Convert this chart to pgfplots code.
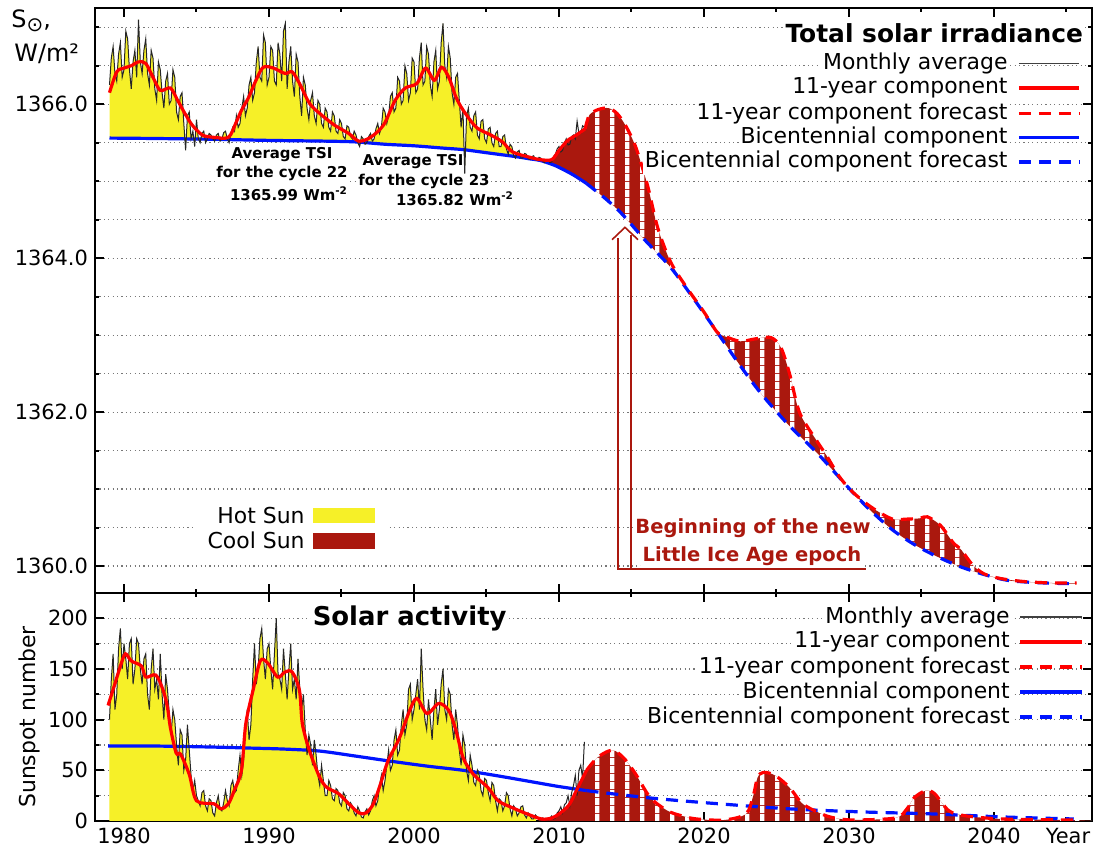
\documentclass[border=0pt]{standalone}
\usepackage{fontspec}
\setmainfont{DejaVu Sans}
\usepackage{pgfplots}
\pgfplotsset{compat=1.18}
\usepackage{pgfplotstable}
\usepgfplotslibrary{fillbetween}
\usetikzlibrary{patterns}

\definecolor{hot}{RGB}{246,240,40}
\definecolor{cool}{RGB}{170,24,14}
\definecolor{cred}{RGB}{255,0,0}
\definecolor{cblue}{RGB}{0,20,255}
\definecolor{gridc}{RGB}{120,120,120}

% white vertical stripes, one per year (14.5 px)
\pgfdeclarepatternformonly{vstripes}{\pgfqpoint{0bp}{0bp}}{\pgfqpoint{7.25bp}{4bp}}{\pgfqpoint{7.25bp}{4bp}}{%
  \pgfpathrectangle{\pgfqpoint{0bp}{0bp}}{\pgfqpoint{2.2bp}{4bp}}\pgfusepath{fill}}

% monthly averages (read every eighth of a year)
\pgfplotstableread{
year tsi ssn
1979.000 1366.25 100
1979.125 1366.60 140
1979.250 1366.75 165
1979.375 1366.40 110
1979.500 1366.30 125
1979.625 1366.65 170
1979.750 1366.80 190
1979.875 1366.35 150
1980.000 1366.45 175
1980.125 1366.95 160
1980.250 1366.85 140
1980.375 1366.45 175
1980.500 1366.20 180
1980.625 1366.55 135
1980.750 1366.70 150
1980.875 1366.35 180
1981.000 1367.10 175
1981.125 1366.55 150
1981.250 1366.40 135
1981.375 1366.70 160
1981.500 1366.85 165
1981.625 1366.40 125
1981.750 1366.25 110
1981.875 1366.70 150
1982.000 1366.60 170
1982.125 1366.20 130
1982.250 1366.05 140
1982.375 1366.55 120
1982.500 1366.45 165
1982.625 1366.15 125
1982.750 1365.95 100
1982.875 1366.30 145
1983.000 1366.40 130
1983.125 1366.00 105
1983.250 1366.05 85
1983.375 1366.45 110
1983.500 1366.35 100
1983.625 1365.90 75
1983.750 1365.80 55
1983.875 1366.10 90
1984.000 1366.15 85
1984.125 1365.75 50
1984.250 1365.40 60
1984.375 1365.85 95
1984.500 1365.90 70
1984.625 1365.55 45
1984.750 1365.65 30
1984.875 1365.45 40
1985.000 1365.80 25
1985.125 1365.55 20
1985.250 1365.50 15
1985.375 1365.62 28
1985.500 1365.65 30
1985.625 1365.50 15
1985.750 1365.55 10
1985.875 1365.62 22
1986.000 1365.60 20
1986.125 1365.55 8
1986.250 1365.52 5
1986.375 1365.60 18
1986.500 1365.62 25
1986.625 1365.52 12
1986.750 1365.55 10
1986.875 1365.63 18
1987.000 1365.65 30
1987.125 1365.55 20
1987.250 1365.50 15
1987.375 1365.62 35
1987.500 1365.70 40
1987.625 1365.65 28
1987.750 1365.85 30
1987.875 1365.70 50
1988.000 1365.75 65
1988.125 1365.95 45
1988.250 1366.10 60
1988.375 1365.85 90
1988.500 1365.95 110
1988.625 1366.25 80
1988.750 1366.35 95
1988.875 1366.05 140
1989.000 1366.15 175
1989.125 1366.55 135
1989.250 1366.75 150
1989.375 1366.35 180
1989.500 1366.30 190
1989.625 1366.90 160
1989.750 1366.80 140
1989.875 1366.25 170
1990.000 1366.35 175
1990.125 1366.75 150
1990.250 1366.70 130
1990.375 1366.30 165
1990.500 1366.25 200
1990.625 1366.80 145
1990.750 1366.65 140
1990.875 1366.30 130
1991.000 1366.95 170
1991.125 1367.05 145
1991.250 1366.20 120
1991.375 1366.55 150
1991.500 1366.75 175
1991.625 1366.30 130
1991.750 1366.10 140
1991.875 1366.65 120
1992.000 1366.55 160
1992.125 1366.10 130
1992.250 1365.85 110
1992.375 1366.35 125
1992.500 1366.25 90
1992.625 1365.95 65
1992.750 1365.80 85
1992.875 1366.05 75
1993.000 1366.15 55
1993.125 1365.85 80
1993.250 1365.75 65
1993.375 1366.05 45
1993.500 1366.00 35
1993.625 1365.75 55
1993.750 1365.70 40
1993.875 1365.95 25
1994.000 1365.90 25
1994.125 1365.70 40
1994.250 1365.65 35
1994.375 1365.90 22
1994.500 1365.85 20
1994.625 1365.65 32
1994.750 1365.62 30
1994.875 1365.80 18
1995.000 1365.75 15
1995.125 1365.58 28
1995.250 1365.55 25
1995.375 1365.72 12
1995.500 1365.70 10
1995.625 1365.58 18
1995.750 1365.55 15
1995.875 1365.65 8
1996.000 1365.60 5
1996.125 1365.50 14
1996.250 1365.45 10
1996.375 1365.58 4
1996.500 1365.55 3
1996.625 1365.48 9
1996.750 1365.50 12
1996.875 1365.58 6
1997.000 1365.62 10
1997.125 1365.52 20
1997.250 1365.55 25
1997.375 1365.68 15
1997.500 1365.75 20
1997.625 1365.62 35
1997.750 1365.70 45
1997.875 1365.95 30
1998.000 1365.90 40
1998.125 1365.75 55
1998.250 1365.85 70
1998.375 1366.10 50
1998.500 1366.15 55
1998.625 1365.90 80
1998.750 1365.95 90
1998.875 1366.35 65
1999.000 1366.30 70
1999.125 1366.00 95
1999.250 1366.05 110
1999.375 1366.50 85
1999.500 1366.40 95
1999.625 1366.05 130
1999.750 1366.15 135
1999.875 1366.60 100
2000.000 1366.55 110
2000.125 1366.15 125
2000.250 1366.20 140
2000.375 1366.60 110
2000.500 1366.80 170
2000.625 1366.25 130
2000.750 1366.30 100
2000.875 1366.75 90
2001.000 1366.65 120
2001.125 1366.25 100
2001.250 1366.10 80
2001.375 1366.55 110
2001.500 1366.70 130
2001.625 1366.20 95
2001.750 1366.30 110
2001.875 1366.80 135
2002.000 1367.05 150
2002.125 1366.50 110
2002.250 1366.35 100
2002.375 1366.75 130
2002.500 1366.60 125
2002.625 1366.15 95
2002.750 1366.00 80
2002.875 1366.35 110
2003.000 1366.40 95
2003.125 1366.05 70
2003.250 1365.70 55
2003.375 1365.95 85
2003.500 1365.10 75
2003.625 1365.85 50
2003.750 1365.95 40
2003.875 1365.70 65
2004.000 1365.65 55
2004.125 1365.85 38
2004.250 1365.90 35
2004.375 1365.60 50
2004.500 1365.55 45
2004.625 1365.78 30
2004.750 1365.80 25
2004.875 1365.55 42
2005.000 1365.50 40
2005.125 1365.68 28
2005.250 1365.70 20
2005.375 1365.50 38
2005.500 1365.45 35
2005.625 1365.62 20
2005.750 1365.65 10
2005.875 1365.45 22
2006.000 1365.45 20
2006.125 1365.58 10
2006.250 1365.60 15
2006.375 1365.42 28
2006.500 1365.35 25
2006.625 1365.48 12
2006.750 1365.45 5
2006.875 1365.33 15
2007.000 1365.30 12
2007.125 1365.38 5
2007.250 1365.40 8
2007.375 1365.30 14
2007.500 1365.30 15
2007.625 1365.36 6
2007.750 1365.35 3
2007.875 1365.29 8
2008.000 1365.28 5
2008.125 1365.32 2
2008.250 1365.33 2
2008.375 1365.28 6
2008.500 1365.27 4
2008.625 1365.31 1
2008.750 1365.30 1
2008.875 1365.26 3
2009.000 1365.24 2
2009.125 1365.27 1
2009.250 1365.28 1
2009.375 1365.24 3
2009.500 1365.25 5
2009.625 1365.32 2
2009.750 1365.35 3
2009.875 1365.42 8
2010.000 1365.45 10
2010.125 1365.38 14
2010.250 1365.40 8
2010.375 1365.50 16
2010.500 1365.55 18
2010.625 1365.47 25
2010.750 1365.48 15
2010.875 1365.58 28
2011.000 1365.60 35
2011.125 1365.55 45
2011.250 1365.78 25
2011.375 1365.62 50
2011.500 1365.62 55
2011.625 1365.72 42
2011.750 1365.70 78
}\mon

% 11-year component of TSI (measured, then forecast)
\pgfplotstableread{
x y
1979.0 1366.15
1979.5 1366.42
1980.0 1366.47
1980.5 1366.50
1981.0 1366.55
1981.5 1366.53
1982.0 1366.35
1982.5 1366.18
1983.2 1366.21
1983.7 1366.05
1984.2 1365.88
1984.7 1365.73
1985.4 1365.60
1986.2 1365.57
1987.2 1365.57
1987.7 1365.75
1988.1 1365.92
1988.6 1366.09
1989.1 1366.31
1989.6 1366.48
1990.3 1366.47
1991.1 1366.40
1991.6 1366.42
1992.1 1366.27
1992.8 1366.01
1993.5 1365.88
1994.5 1365.73
1995.5 1365.62
1996.2 1365.52
1997.0 1365.57
1997.9 1365.73
1998.7 1366.05
1999.4 1366.21
2000.2 1366.27
2000.8 1366.47
2001.4 1366.31
2001.9 1366.48
2002.4 1366.35
2002.9 1366.09
2003.4 1365.92
2004.3 1365.70
2005.3 1365.60
2006.1 1365.51
2006.8 1365.38
2008.0 1365.31
2008.7 1365.28
2009.5 1365.28
2010.0 1365.40
2010.6 1365.53
2011.2 1365.60
2011.8 1365.68
2012.1 1365.86
2012.7 1365.93
2013.4 1365.95
2014.0 1365.88
2014.6 1365.72
2015.3 1365.44
2016.1 1364.95
2016.8 1364.40
2017.7 1363.95
2018.8 1363.62
2020.0 1363.30
2020.9 1363.04
2021.5 1362.98
2022.5 1362.92
2023.5 1362.95
2024.6 1362.97
2025.3 1362.84
2025.9 1362.50
2026.6 1361.99
2027.8 1361.62
2028.5 1361.42
2029.3 1361.17
2030.1 1360.99
2031.0 1360.84
2031.9 1360.72
2033.0 1360.61
2034.0 1360.61
2034.9 1360.62
2035.4 1360.64
2036.3 1360.53
2037.2 1360.30
2037.7 1360.22
2038.5 1360.02
2039.3 1359.90
2040.4 1359.84
2042.0 1359.80
2044.0 1359.78
2045.7 1359.78
}\rtsi

% bicentennial component of TSI
\pgfplotstableread{
x y
1979.0 1365.56
1982.0 1365.555
1986.0 1365.545
1990.0 1365.53
1994.0 1365.52
1996.0 1365.51
1998.0 1365.48
2000.0 1365.46
2002.0 1365.43
2003.4 1365.41
2005.0 1365.37
2006.0 1365.345
2007.0 1365.32
2008.0 1365.29
2008.7 1365.27
2009.5 1365.22
2010.0 1365.18
2011.0 1365.08
2011.9 1364.97
2012.5 1364.88
2013.1 1364.79
2014.0 1364.64
2014.7 1364.50
2016.0 1364.22
2017.7 1363.88
2019.3 1363.47
2020.9 1363.04
2022.4 1362.63
2023.9 1362.25
2025.8 1361.84
2027.8 1361.47
2030.1 1360.99
2031.5 1360.72
2033.0 1360.47
2034.5 1360.28
2036.0 1360.13
2037.7 1359.99
2039.5 1359.88
2041.1 1359.81
2043.5 1359.78
2045.7 1359.77
}\btsi

% 11-year component of the sunspot number
\pgfplotstableread{
x y
1978.9 114
1979.3 132
1979.8 155
1980.1 165
1980.5 158
1981.2 153
1981.5 142
1982.2 144
1982.7 129
1983.0 112
1983.2 92
1983.6 67
1983.9 66
1984.5 46
1985.0 20
1986.2 17
1986.7 12
1987.2 17
1987.6 30
1988.1 50
1988.4 96
1988.9 129
1989.4 158
1989.9 156
1990.6 142
1991.1 147
1991.6 147
1992.1 129
1992.3 96
1992.8 69
1993.5 43
1994.0 33
1994.8 27
1995.5 17
1996.2 8
1996.7 8
1997.2 17
1997.7 37
1998.2 59
1999.0 82
1999.7 109
2000.2 121
2000.9 106
2001.7 116
2002.4 109
2002.9 89
2003.4 62
2004.1 46
2005.1 33
2005.8 20
2006.8 13
2007.8 7
2008.8 2
2009.5 3
2010.1 8
2010.7 16
2011.2 30
2011.9 50
2012.6 62
2013.4 69
2013.9 69
2014.6 60
2015.3 46
2016.3 23
2017.5 10
2018.5 5
2019.5 2
2021.4 1
2022.9 7
2023.4 25
2023.7 43
2024.1 48
2024.9 45
2025.9 33
2026.8 17
2028.1 7
2029.0 3
2030.3 1
2033.2 3
2034.0 12
2034.5 23
2035.3 30
2035.9 27
2036.9 10
2038.1 5
2040.6 2
2045.5 1
}\rssn

% bicentennial component of the sunspot number
\pgfplotstableread{
x y
1978.9 74
1982.0 74
1986.0 73
1988.6 72
1991.0 71
1993.5 69
1996.0 64
1998.4 59
2001.0 54
2003.4 50
2006.0 44
2008.0 39
2010.0 34
2011.9 30
2013.6 27
2016.8 22
2021.0 17
2025.9 12
2030.8 9
2035.7 7
2040.6 4
2045.5 2
}\bssn

\pgfplotsset{
  base/.style={
    scale only axis, width=498.5bp, xmin=1978, xmax=2046.76,
    xtick={1980,1990,...,2040}, minor xtick={1980,1985,...,2045},
    tick align=inside, major tick length=4.5bp, minor tick length=2bp,
    every tick/.style={black, line width=1bp},
    axis line style={line width=1.1bp},
    ymajorgrids, yminorgrids,
    major grid style={gridc, line width=0.6bp, dash pattern=on 0.6bp off 1.6bp},
    minor grid style={gridc, line width=0.6bp, dash pattern=on 0.6bp off 1.6bp},
    tick label style={font=\fontsize{10.5}{12}\selectfont},
    /pgf/number format/assume math mode=true,
    xticklabel style={/pgf/number format/1000 sep={}},
    no markers,
  },
}
\tikzset{
  ln/.style={line width=1.6bp},
  fc/.style={dash pattern=on 6bp off 4bp},
  leg/.style={anchor=east, fill=white, inner sep=1bp, font=\fontsize{11}{13}\selectfont},
  ann/.style={fill=white, inner sep=0.8bp, font=\fontsize{7.5}{9}\selectfont\bfseries},
}

\begin{document}
\begin{tikzpicture}

% ---------------- total solar irradiance ----------------
\begin{axis}[base, at={(47.5bp,130bp)}, anchor=south west, height=292.5bp,
  ymin=1359.65, ymax=1367.25,
  ytick={1360,1362,1364,1366}, minor ytick={1360,1360.5,...,1367},
  scaled y ticks=false,
  yticklabel style={/pgf/number format/.cd, fixed, fixed zerofill, precision=1, 1000 sep={}},
  xticklabels={}]
\addplot[draw=none, name path=tmh] table[x=year,y=tsi,restrict x to domain=1978:2008.8]{\mon};
\addplot[draw=none, smooth, name path=bth] table[restrict x to domain=1978:2008.8]{\btsi};
\addplot[draw=none, smooth, name path=rt] table{\rtsi};
\addplot[draw=none, smooth, name path=bt] table{\btsi};
\addplot[hot] fill between[of=tmh and bth];
\addplot[cool] fill between[of=rt and bt, soft clip={(2008.7,1359) rectangle (2047,1368)}];
\addplot[pattern=vstripes, pattern color=white] fill between[of=rt and bt, soft clip={(2012.4,1359) rectangle (2047,1368)}];

\node[ann] at (axis cs:1990.9,1365.34) {Average TSI};
\node[ann] at (axis cs:1990.9,1365.10) {for the cycle 22};
\node[ann] at (axis cs:1991.38,1364.84) {1365.99 Wm\textsuperscript{-2}};
\node[ann] at (axis cs:1999.93,1365.25) {Average TSI};
\node[ann] at (axis cs:2000.69,1365.00) {for the cycle 23};
\node[ann] at (axis cs:2002.83,1364.77) {1365.82 Wm\textsuperscript{-2}};

\addplot[cblue, ln, smooth] table[restrict x to domain=1978:2011.9]{\btsi};
\addplot[cblue, ln, fc, smooth] table[restrict x to domain=2011.9:2047]{\btsi};
\addplot[black!85, line width=0.5bp] table[x=year,y=tsi]{\mon};
\addplot[cred, ln, smooth] table[restrict x to domain=1978:2011.8]{\rtsi};
\addplot[cred, ln, fc, smooth] table[restrict x to domain=2011.8:2047]{\rtsi};

% hot / cool key
\fill[white] (axis cs:1984.76,1360.14) rectangle (axis cs:1998.14,1360.86);
\fill[hot] (axis cs:1993.03,1360.56) rectangle (axis cs:1997.31,1360.75);
\fill[cool] (axis cs:1993.03,1360.22) rectangle (axis cs:1997.31,1360.43);
\node[anchor=east, inner sep=0, font=\fontsize{11}{13}\selectfont] at (axis cs:1992.48,1360.66) {Hot Sun};
\node[anchor=east, inner sep=0, font=\fontsize{11}{13}\selectfont] at (axis cs:1992.48,1360.34) {Cool Sun};

% arrow
\draw[cool, line width=0.8bp] (axis cs:2014.07,1364.26) -- (axis cs:2014.07,1359.96) -- (axis cs:2031.17,1359.96);
\draw[cool, line width=0.8bp] (axis cs:2014.97,1364.30) -- (axis cs:2014.97,1359.96);
\draw[cool, line width=0.8bp] (axis cs:2013.66,1364.24) -- (axis cs:2014.55,1364.40) -- (axis cs:2015.45,1364.24);
\node[fill=white, inner sep=0.6bp, text=cool, font=\fontsize{9.8}{11}\selectfont\bfseries] at (axis cs:2023.38,1360.49) {Beginning of the new};
\node[fill=white, inner sep=0.6bp, text=cool, font=\fontsize{9.8}{11}\selectfont\bfseries] at (axis cs:2023.31,1360.13) {Little Ice Age epoch};

% legend
\node[anchor=east, fill=white, inner sep=1bp, font=\fontsize{12.5}{14}\selectfont\bfseries] at (axis cs:2046.3,1366.92) {Total solar irradiance};
\node[leg] at (axis cs:2041.1,1366.53) {Monthly average};
\node[leg] at (axis cs:2041.1,1366.21) {11-year component};
\node[leg] at (axis cs:2041.1,1365.88) {11-year component forecast};
\node[leg] at (axis cs:2041.1,1365.57) {Bicentennial component};
\node[leg] at (axis cs:2041.1,1365.25) {Bicentennial component forecast};
\draw[black!75, line width=0.6bp] (axis cs:2041.72,1366.53) -- (axis cs:2045.86,1366.53);
\draw[cred, ln] (axis cs:2041.72,1366.21) -- (axis cs:2045.86,1366.21);
\draw[cred, ln, fc] (axis cs:2041.72,1365.88) -- (axis cs:2045.86,1365.88);
\draw[cblue, ln] (axis cs:2041.72,1365.57) -- (axis cs:2045.86,1365.57);
\draw[cblue, ln, fc] (axis cs:2041.72,1365.25) -- (axis cs:2045.86,1365.25);
\end{axis}

% ---------------- solar activity ----------------
\begin{axis}[base, at={(47.5bp,16bp)}, anchor=south west, height=114bp,
  ymin=0, ymax=225, ytick={0,50,...,200}, minor ytick={25,75,125,175},
  extra x ticks={2045.1}, extra x tick labels={Year},
  extra x tick style={major tick length=0pt}]
\addplot[draw=none, name path=zero] coordinates {(1978.9,0) (2047,0)};
\addplot[draw=none, name path=sm] table[x=year,y=ssn]{\mon};
\addplot[draw=none, smooth, name path=rs] table{\rssn};
\addplot[hot] fill between[of=sm and zero, soft clip={(1979,-1) rectangle (2008.4,300)}];
\addplot[cool] fill between[of=rs and zero, soft clip={(2008.6,-1) rectangle (2047,300)}];
\addplot[pattern=vstripes, pattern color=white] fill between[of=rs and zero, soft clip={(2012.4,-1) rectangle (2047,300)}];

\addplot[cblue, ln, smooth] table[restrict x to domain=1978:2011.9]{\bssn};
\addplot[cblue, ln, fc, smooth] table[restrict x to domain=2011.9:2047]{\bssn};
\addplot[black!85, line width=0.5bp] table[x=year,y=ssn]{\mon};
\addplot[cred, ln, smooth] table[restrict x to domain=1978:2011.9]{\rssn};
\addplot[cred, ln, fc, smooth] table[restrict x to domain=2011.9:2047]{\rssn};

\node[fill=white, inner sep=1bp, font=\fontsize{13}{15}\selectfont\bfseries] at (axis cs:1999.7,200.3) {Solar activity};
\node[leg] at (axis cs:2041.25,201.3) {Monthly average};
\node[leg] at (axis cs:2041.25,176.6) {11-year component};
\node[leg] at (axis cs:2041.25,152.0) {11-year component forecast};
\node[leg] at (axis cs:2041.25,127.3) {Bicentennial component};
\node[leg] at (axis cs:2041.25,102.6) {Bicentennial component forecast};
\draw[black!75, line width=0.6bp] (axis cs:2041.8,201.3) -- (axis cs:2046.1,201.3);
\draw[cred, ln] (axis cs:2041.8,176.6) -- (axis cs:2046.1,176.6);
\draw[cred, ln, fc] (axis cs:2041.8,152.0) -- (axis cs:2046.1,152.0);
\draw[cblue, ln] (axis cs:2041.8,127.3) -- (axis cs:2046.1,127.3);
\draw[cblue, ln, fc] (axis cs:2041.8,102.6) -- (axis cs:2046.1,102.6);
\end{axis}

% outer labels
\node[anchor=west, inner sep=0, font=\fontsize{12}{14}\selectfont] at (5.5bp,416bp) {S\raisebox{-2bp}{\fontsize{10}{10}\selectfont ⊙},};
\node[anchor=west, inner sep=0, font=\fontsize{12}{14}\selectfont] at (7bp,399.5bp) {W/m²};
\node[rotate=90, inner sep=0, font=\fontsize{11}{13}\selectfont] at (14.5bp,68bp) {Sunspot number};

\pgfresetboundingbox
\path[use as bounding box] (0,0) rectangle (548.5bp,426.5bp);
\end{tikzpicture}
\end{document}
